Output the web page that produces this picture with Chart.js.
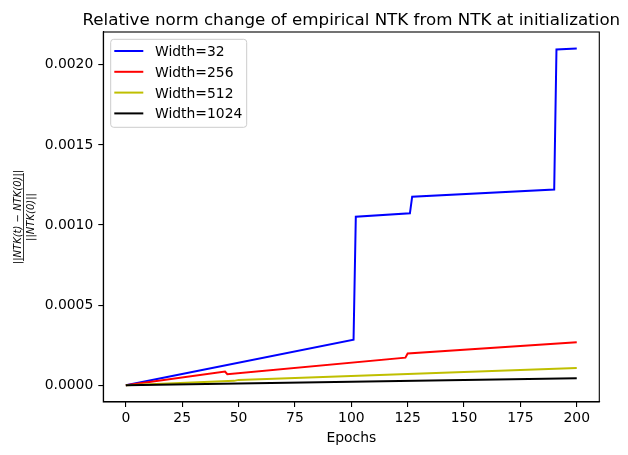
<!DOCTYPE html>
<html>
<head>
<meta charset="utf-8">
<script src="https://cdn.jsdelivr.net/npm/chart.js@4.4.0/dist/chart.umd.min.js"></script>
<style>
  body { margin: 0; background: #fff; }
  canvas { display: block; }
</style>
</head>
<body>
<canvas id="ntkChart" width="628" height="455"></canvas>
<script>
// values
const epochs32 = [0, 101, 102, 126, 127, 190, 191, 200];
const width32 = [0, 0.000284, 0.001052, 0.001073, 0.001177, 0.001222, 0.002096, 0.002102];

const epochs256 = [0, 44, 45, 124, 125, 200];
const width256 = [0, 0.0000855, 0.000069, 0.000172, 0.000198, 0.000268];

const epochs512 = [0, 48, 50, 200];
const width512 = [0, 0.000027, 0.000033, 0.000108];

const epochs1024 = [0, 100, 200];
const width1024 = [0, 0.000022, 0.0000437];

const seriesLabels = ['Width=32', 'Width=256', 'Width=512', 'Width=1024'];
const xTicks = [0, 25, 50, 75, 100, 125, 150, 175, 200];
const yTicks = [0, 0.0005, 0.001, 0.0015, 0.002];

const FONT = 'DejaVu Sans';

const toPoints = (xs, ys) => xs.map((x, i) => ({ x: x, y: ys[i] }));

// title, frame, legend and the fraction-style y label, drawn the way matplotlib lays them out
const decorations = {
    id: 'decorations',
    afterDraw(chart) {
        const ctx = chart.ctx;
        const area = chart.chartArea;
        ctx.save();

        ctx.strokeStyle = '#000';
        ctx.lineWidth = 1.1;
        ctx.strokeRect(area.left, area.top, area.right - area.left, area.bottom - area.top);

        ctx.fillStyle = '#000';
        ctx.font = '16.7px "' + FONT + '"';
        ctx.textAlign = 'center';
        ctx.textBaseline = 'alphabetic';
        ctx.fillText('Relative norm change of empirical NTK from NTK at initialization',
            (area.left + area.right) / 2, 24.5);

        // y label: ||NTK(t) - NTK(0)|| / ||NTK(0)||
        ctx.save();
        ctx.translate(23.5, (area.top + area.bottom) / 2);
        ctx.rotate(-Math.PI / 2);
        ctx.font = 'italic 10px "' + FONT + '"';
        ctx.textAlign = 'center';
        ctx.textBaseline = 'alphabetic';
        ctx.fillText('||NTK(t) \u2212 NTK(0)||', 0, -3);
        ctx.fillText('||NTK(0)||', 0, 10);
        ctx.lineWidth = 0.8;
        ctx.beginPath();
        ctx.moveTo(-44, 0);
        ctx.lineTo(44, 0);
        ctx.stroke();
        ctx.restore();

        // legend box
        const bx = 110.7, by = 39.3, bw = 136, bh = 88, r = 3;
        ctx.beginPath();
        ctx.moveTo(bx + r, by);
        ctx.arcTo(bx + bw, by, bx + bw, by + bh, r);
        ctx.arcTo(bx + bw, by + bh, bx, by + bh, r);
        ctx.arcTo(bx, by + bh, bx, by, r);
        ctx.arcTo(bx, by, bx + bw, by, r);
        ctx.closePath();
        ctx.fillStyle = 'rgba(255,255,255,0.8)';
        ctx.fill();
        ctx.strokeStyle = '#cccccc';
        ctx.lineWidth = 1;
        ctx.stroke();

        ctx.font = '13.9px "' + FONT + '"';
        ctx.textAlign = 'left';
        chart.data.datasets.forEach((ds, i) => {
            const y = 51 + i * 20.8;
            ctx.strokeStyle = ds.borderColor;
            ctx.lineWidth = 2;
            ctx.beginPath();
            ctx.moveTo(114.3, y);
            ctx.lineTo(143.3, y);
            ctx.stroke();
            ctx.fillStyle = '#000';
            ctx.fillText(ds.label, 155, y + 5);
        });

        ctx.restore();
    }
};

const axisGrid = {
    display: true,
    drawOnChartArea: false,
    drawTicks: true,
    tickLength: 5,
    color: '#000',
    lineWidth: 1.1
};

new Chart(document.getElementById('ntkChart').getContext('2d'), {
    type: 'line',
    data: {
        datasets: [
            { label: seriesLabels[0], data: toPoints(epochs32, width32), borderColor: '#0000ff', order: 4 },
            { label: seriesLabels[1], data: toPoints(epochs256, width256), borderColor: '#ff0000', order: 3 },
            { label: seriesLabels[2], data: toPoints(epochs512, width512), borderColor: '#bfbf00', order: 2 },
            { label: seriesLabels[3], data: toPoints(epochs1024, width1024), borderColor: '#000000', order: 1 }
        ]
    },
    options: {
        responsive: false,
        animation: false,
        devicePixelRatio: 1,
        datasets: {
            line: { borderWidth: 2, pointRadius: 0, tension: 0, fill: false }
        },
        layout: { padding: { top: 32, left: 0, right: 28.7, bottom: 8 } },
        plugins: {
            legend: { display: false },
            tooltip: { enabled: false }
        },
        scales: {
            x: {
                type: 'linear',
                min: -10,
                max: 210,
                grid: axisGrid,
                border: { display: true, color: '#000', width: 1.1 },
                afterBuildTicks: axis => { axis.ticks = xTicks.map(v => ({ value: v })); },
                afterFit: axis => { axis.height = 45; },
                ticks: {
                    color: '#000',
                    padding: 3,
                    maxRotation: 0,
                    font: { family: FONT, size: 13.9 }
                },
                title: {
                    display: true,
                    text: 'Epochs',
                    color: '#000',
                    font: { family: FONT, size: 13.9 },
                    padding: { top: 2, bottom: 0 }
                }
            },
            y: {
                type: 'linear',
                min: -0.000105,
                max: 0.002205,
                grid: axisGrid,
                border: { display: true, color: '#000', width: 1.1 },
                afterBuildTicks: axis => { axis.ticks = yTicks.map(v => ({ value: v })); },
                afterFit: axis => { axis.width = 103.3; },
                ticks: {
                    color: '#000',
                    padding: 5,
                    font: { family: FONT, size: 13.9 },
                    callback: v => v.toFixed(4)
                }
            }
        }
    },
    plugins: [decorations]
});
</script>
</body>
</html>
